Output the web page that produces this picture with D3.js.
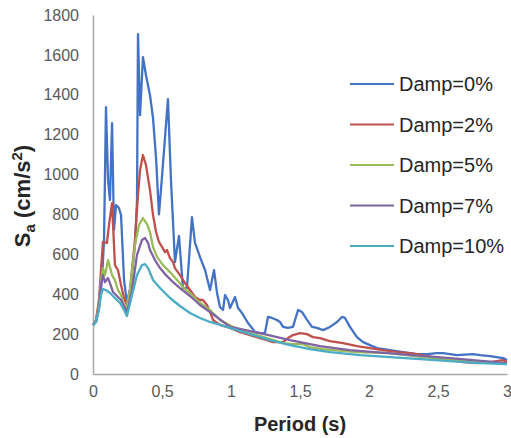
<!DOCTYPE html>
<html>
<head>
<meta charset="utf-8">
<script src="https://cdn.jsdelivr.net/npm/d3@7"></script>
<style>
  html, body { margin: 0; padding: 0; background: #fff; }
  svg { display: block; font-family: "Liberation Sans", Arial, sans-serif; }
</style>
</head>
<body>
<svg id="chart" width="511" height="438"></svg>
<script>
// Response spectra for several damping ratios: period (s) vs spectral acceleration (cm/s²)
const seriesNames = ["Damp=0%", "Damp=2%", "Damp=5%", "Damp=7%", "Damp=10%"];
const seriesColors = ["#4472C4", "#C0504D", "#9BBB59", "#8064A2", "#4BACC6"];

const xTicks = [0, 0.5, 1, 1.5, 2, 2.5, 3];
const xTickLabels = ["0", "0,5", "1", "1,5", "2", "2,5", "3"];
const yTicks = [0, 200, 400, 600, 800, 1000, 1200, 1400, 1600, 1800];

const period0 = [0, 0.022, 0.043, 0.065, 0.080, 0.094, 0.109, 0.123, 0.138, 0.152, 0.167, 0.188, 0.203, 0.225, 0.246, 0.275, 0.304, 0.319, 0.326, 0.341, 0.362, 0.384, 0.413, 0.435, 0.457, 0.478, 0.500, 0.543, 0.565, 0.594, 0.623, 0.652, 0.681, 0.717, 0.739, 0.775, 0.812, 0.848, 0.877, 0.899, 0.920, 0.942, 0.957, 0.978, 0.993, 1.029, 1.051, 1.080, 1.101, 1.123, 1.152, 1.174, 1.210, 1.246, 1.268, 1.297, 1.333, 1.355, 1.377, 1.413, 1.449, 1.486, 1.514, 1.551, 1.587, 1.623, 1.667, 1.717, 1.768, 1.804, 1.826, 1.862, 1.913, 1.957, 2.007, 2.058, 2.152, 2.246, 2.348, 2.420, 2.493, 2.536, 2.638, 2.754, 2.804, 2.877, 2.971, 3.0];
const sa0 = [245, 270, 346, 471, 672, 1338, 972, 872, 1258, 722, 847, 832, 797, 471, 356, 446, 647, 872, 1704, 1298, 1589, 1498, 1398, 1283, 1080, 800, 990, 1378, 972, 561, 692, 431, 431, 787, 657, 587, 521, 421, 521, 406, 336, 321, 396, 371, 331, 386, 331, 306, 281, 256, 231, 210, 205, 205, 286, 281, 271, 261, 236, 231, 236, 321, 311, 271, 236, 231, 220, 236, 261, 286, 281, 236, 185, 160, 145, 130, 120, 110, 100, 100, 105, 105, 95, 100, 95, 90, 80, 70];

const period2 = [0, 0.022, 0.043, 0.058, 0.072, 0.101, 0.116, 0.138, 0.159, 0.181, 0.203, 0.225, 0.246, 0.268, 0.304, 0.326, 0.341, 0.362, 0.384, 0.413, 0.435, 0.457, 0.478, 0.500, 0.522, 0.536, 0.558, 0.580, 0.594, 0.630, 0.667, 0.703, 0.739, 0.775, 0.797, 0.826, 0.848, 0.870, 0.920, 0.993, 1.065, 1.138, 1.210, 1.261, 1.304, 1.377, 1.413, 1.449, 1.500, 1.551, 1.594, 1.645, 1.717, 1.812, 1.913, 2.007, 2.101, 2.203, 2.297, 2.391, 2.493, 2.587, 2.681, 2.783, 2.877, 2.971, 3.0];
const sa2 = [245, 270, 371, 521, 662, 657, 747, 857, 546, 521, 446, 381, 346, 421, 672, 897, 1022, 1098, 1047, 922, 797, 712, 662, 637, 611, 622, 581, 561, 531, 496, 456, 421, 386, 371, 371, 346, 311, 271, 246, 231, 210, 195, 180, 170, 160, 160, 180, 195, 205, 200, 185, 180, 165, 155, 140, 130, 120, 110, 105, 95, 80, 70, 60, 55, 60, 70, 60];

const period5 = [0, 0.022, 0.043, 0.058, 0.072, 0.087, 0.109, 0.138, 0.159, 0.181, 0.203, 0.225, 0.239, 0.268, 0.304, 0.333, 0.362, 0.391, 0.413, 0.435, 0.464, 0.507, 0.558, 0.609, 0.652, 0.703, 0.754, 0.797, 0.848, 0.920, 1.014, 1.138, 1.261, 1.377, 1.449, 1.522, 1.572, 1.667, 1.739, 1.913, 2.152, 2.391, 2.638, 2.877, 3.0];
const sa5 = [245, 266, 346, 471, 531, 496, 571, 496, 471, 421, 396, 346, 321, 421, 647, 747, 782, 752, 712, 637, 587, 546, 511, 471, 436, 406, 371, 346, 321, 271, 236, 205, 180, 155, 150, 150, 135, 125, 120, 110, 105, 85, 70, 60, 55];

const period7 = [0, 0.022, 0.043, 0.058, 0.072, 0.087, 0.109, 0.123, 0.145, 0.174, 0.203, 0.232, 0.246, 0.283, 0.319, 0.355, 0.377, 0.399, 0.413, 0.449, 0.486, 0.522, 0.572, 0.630, 0.703, 0.775, 0.848, 0.993, 1.210, 1.428, 1.645, 1.862, 2.225, 2.587, 3.0];
const sa7 = [245, 261, 331, 446, 496, 461, 481, 456, 411, 391, 371, 331, 306, 421, 597, 672, 682, 657, 622, 571, 531, 501, 466, 431, 391, 346, 311, 236, 205, 170, 140, 120, 100, 80, 55];

const period10 = [0, 0.022, 0.043, 0.058, 0.072, 0.094, 0.123, 0.159, 0.196, 0.225, 0.246, 0.283, 0.319, 0.355, 0.377, 0.399, 0.435, 0.486, 0.558, 0.630, 0.703, 0.775, 0.848, 0.993, 1.138, 1.283, 1.428, 1.572, 1.717, 1.935, 2.152, 2.370, 2.587, 2.804, 3.0];
const sa10 = [245, 261, 321, 396, 426, 421, 406, 381, 356, 321, 291, 396, 496, 546, 551, 531, 471, 431, 381, 341, 306, 281, 261, 231, 200, 170, 145, 125, 110, 95, 85, 75, 65, 55, 50];

const seriesPeriods = [period0, period2, period5, period7, period10];
const seriesValues = [sa0, sa2, sa5, sa7, sa10];

const svg = d3.select("#chart");
const plot = { left: 93, right: 507, top: 15, bottom: 374 };

const x = d3.scaleLinear().domain([0, 3]).range([plot.left, plot.right]);
const y = d3.scaleLinear().domain([0, 1800]).range([plot.bottom, plot.top]);

const axisColor = "#A6A6A6";
const labelColor = "#595959";

// Axes: plain gray lines with no tick marks, labels only
const xAxis = svg.append("g")
  .attr("transform", `translate(0,${plot.bottom})`)
  .call(d3.axisBottom(x).tickValues(xTicks).tickSize(0).tickPadding(12)
    .tickFormat((d, i) => xTickLabels[i]));
const yAxis = svg.append("g")
  .attr("transform", `translate(${plot.left},0)`)
  .call(d3.axisLeft(y).tickValues(yTicks).tickSize(0).tickPadding(14)
    .tickFormat(d3.format("d")));

[xAxis, yAxis].forEach(g => {
  g.select(".domain").attr("stroke", axisColor).attr("stroke-width", 1.5);
  g.selectAll("text")
    .attr("fill", labelColor)
    .style("font-size", "16px")
    .style("font-family", "'Liberation Sans', Arial, sans-serif");
});

// Spectrum curves, first series at the bottom
const line = d3.line()
  .x(d => x(d[0]))
  .y(d => y(d[1]));

seriesNames.forEach((name, i) => {
  const pts = seriesPeriods[i].map((p, j) => [p, seriesValues[i][j]]);
  svg.append("path")
    .datum(pts)
    .attr("fill", "none")
    .attr("stroke", seriesColors[i])
    .attr("stroke-width", 2.3)
    .attr("stroke-linejoin", "round")
    .attr("d", line);
});

// Axis titles
svg.append("text")
  .attr("x", 300)
  .attr("y", 431)
  .attr("text-anchor", "middle")
  .attr("fill", "#262626")
  .style("font-size", "20px")
  .style("font-weight", "bold")
  .text("Period (s)");

const yTitle = svg.append("text")
  .attr("transform", "translate(30,196) rotate(-90)")
  .attr("text-anchor", "middle")
  .attr("fill", "#262626")
  .style("font-size", "22px")
  .style("font-weight", "bold");
yTitle.append("tspan").text("S");
yTitle.append("tspan").attr("dy", 5).style("font-size", "15px").text("a");
yTitle.append("tspan").attr("dy", -5).text(" (cm/s");
yTitle.append("tspan").attr("dy", -8).style("font-size", "15px").text("2");
yTitle.append("tspan").attr("dy", 8).text(")");

// Legend
const legend = svg.append("g");
seriesNames.forEach((name, i) => {
  const ly = 84 + i * 40.5;
  legend.append("line")
    .attr("x1", 350).attr("x2", 394)
    .attr("y1", ly).attr("y2", ly)
    .attr("stroke", seriesColors[i])
    .attr("stroke-width", 2);
  legend.append("text")
    .attr("x", 399)
    .attr("y", ly)
    .attr("dy", "0.35em")
    .attr("fill", "#262626")
    .style("font-size", "20px")
    .text(name);
});
</script>
</body>
</html>
